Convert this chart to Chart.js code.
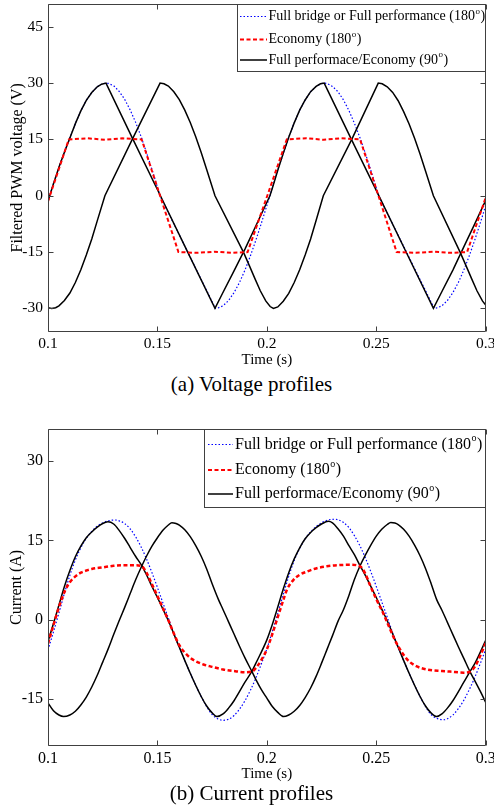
<!DOCTYPE html>
<html>
<head>
<meta charset="utf-8">
<script src="https://cdn.jsdelivr.net/npm/chart.js@4.4.1/dist/chart.umd.min.js"></script>
<style>
  html, body { margin: 0; padding: 0; background: #fff; }
  body { width: 494px; height: 812px; position: relative; overflow: hidden;
         font-family: "Liberation Serif", "Times New Roman", serif; }
  .box { position: absolute; left: 0; width: 494px; }
  .caption { position: absolute; left: 4.5px; width: 494px; text-align: center;
             font-size: 21px; line-height: 24px; color: #000; }
</style>
</head>
<body>
<div class="box" style="top:0;height:372px"><canvas id="voltChart"></canvas></div>
<div class="caption" style="top:372px">(a) Voltage profiles</div>
<div class="box" style="top:400px;height:385px"><canvas id="currChart"></canvas></div>
<div class="caption" style="top:781px">(b) Current profiles</div>

<script>
// axis ticks
const timeTicks = [0.1, 0.15, 0.2, 0.25, 0.3];
const voltTicks = [-30, -15, 0, 15, 30, 45];
const currTicks = [-15, 0, 15, 30];

// legend text (superscript "o" drawn smaller)
const legendEntries = [
  { key: 'blue', text: 'Full bridge or Full performance (180', sup: 'o', end: ')' },
  { key: 'red', text: 'Economy (180', sup: 'o', end: ')' },
  { key: 'black', text: 'Full performace/Economy (90', sup: 'o', end: ')' }
];

// ---- (a) voltage, [time s, volts] ----
const voltBlue = [
  [0.100, -1.5], [0.1025, 3.2], [0.105, 7.6], [0.1075, 11.6], [0.110, 15.4], [0.1125, 19.2], [0.115, 22.6],
  [0.1175, 25.4], [0.120, 27.5], [0.1225, 29.0], [0.1245, 29.7], [0.1265, 30],
  [0.1275, 29.9], [0.130, 29.3], [0.1325, 27.8], [0.135, 25.7], [0.1375, 22.9], [0.140, 19.6], [0.1425, 15.8],
  [0.145, 11.5], [0.1475, 7.0], [0.1512, 0], [0.1765, -30], [0.178, -29.8], [0.180, -29.3], [0.1825, -27.9],
  [0.185, -25.8], [0.1875, -23.1], [0.190, -19.8], [0.1925, -16.0], [0.195, -11.8], [0.1975, -7.3], [0.2014, 0],
  [0.2025, 2.0], [0.205, 6.8], [0.2075, 11.3], [0.210, 15.6], [0.2125, 19.4], [0.215, 22.8], [0.2175, 25.5],
  [0.220, 27.7], [0.2225, 29.1], [0.2245, 29.8], [0.2262, 30], [0.2275, 29.9],
  [0.230, 29.1], [0.2325, 27.7], [0.235, 25.5], [0.2375, 22.7], [0.240, 19.3], [0.2425, 15.5], [0.245, 11.3],
  [0.2475, 6.8], [0.2511, 0], [0.2765, -30], [0.278, -29.8], [0.280, -29.3], [0.2825, -27.9], [0.285, -25.8],
  [0.2875, -23.1], [0.290, -19.8], [0.2925, -16.0], [0.295, -11.8], [0.2975, -7.3], [0.300, -2.6]
];
const voltRed = [
  [0.100, -1.5], [0.1095, 15], [0.118, 15.3], [0.126, 14.9], [0.134, 15.3], [0.1428, 15], [0.1512, 0],
  [0.1596, -15], [0.168, -15.2], [0.176, -14.9], [0.184, -15.2], [0.1912, -15], [0.2005, 0.5], [0.2091, 15],
  [0.218, 15.3], [0.226, 14.9], [0.234, 15.3], [0.2426, 15], [0.2510, 0], [0.2593, -15], [0.268, -15.2],
  [0.276, -14.9], [0.284, -15.2], [0.2915, -15], [0.300, -0.5]
];
const voltBlackA = [
  [0.100, -1.5], [0.1025, 3.2], [0.105, 7.6], [0.1075, 11.6], [0.110, 15.4], [0.1125, 19.2], [0.115, 22.6],
  [0.1175, 25.4], [0.120, 27.5], [0.1225, 29.0], [0.1245, 29.7], [0.1265, 30],
  [0.1385, 15.4], [0.1512, 0.2], [0.164, -15.2], [0.1763, -30], [0.180, -25.7], [0.185, -20.0], [0.190, -14.2],
  [0.195, -8.0], [0.2014, 0], [0.2025, 2.0], [0.205, 6.8], [0.2075, 11.3], [0.210, 15.6], [0.2125, 19.4],
  [0.215, 22.8], [0.2175, 25.5], [0.220, 27.7], [0.2225, 29.1], [0.2245, 29.8], [0.2262, 30],
  [0.2388, 14.8], [0.2511, 0.1], [0.2639, -15.3], [0.2761, -30], [0.280, -25.5], [0.285, -19.8],
  [0.290, -13.6], [0.295, -7.5], [0.300, -1.2]
];
const voltBlackB = [
  [0.100, -29.8], [0.1017, -30], [0.1035, -29.8], [0.105, -29.3], [0.1075, -27.9], [0.110, -25.9],
  [0.1125, -23.1], [0.115, -19.7], [0.1175, -15.8], [0.120, -11.5], [0.1225, -6.7], [0.126, 0],
  [0.1385, 15], [0.1512, 30], [0.153, 29.8], [0.155, 29.2], [0.1575, 27.7], [0.160, 25.6], [0.1625, 22.8],
  [0.165, 19.5], [0.1675, 15.7], [0.170, 11.5], [0.1725, 7.0], [0.1763, 0],
  [0.1893, -15], [0.192, -18.6], [0.1945, -22.0], [0.197, -25.3], [0.1995, -28.0], [0.2015, -29.5],
  [0.203, -30], [0.205, -29.6], [0.2075, -28.1], [0.210, -26.0], [0.2125, -23.1], [0.215, -19.7],
  [0.2175, -15.8], [0.220, -11.5], [0.2225, -6.6], [0.2258, 0], [0.2388, 15], [0.2509, 30],
  [0.2527, 29.8], [0.255, 29.0], [0.2575, 27.5], [0.260, 25.3], [0.2625, 22.4], [0.265, 19.1],
  [0.2675, 15.3], [0.270, 11.1], [0.2725, 6.6], [0.2761, 0], [0.2883, -15], [0.291, -18.6],
  [0.2935, -22.0], [0.296, -25.3], [0.2985, -28.0], [0.300, -29.1]
];

// ---- (b) current, [time s, amps] ----
const currBlue = [
  [0.100, -5.7], [0.1025, -2.3], [0.105, 1.3], [0.1075, 5.0], [0.110, 8.4], [0.1125, 11.3], [0.115, 13.6],
  [0.1175, 15.4], [0.120, 16.7], [0.1225, 17.7], [0.125, 18.3], [0.1275, 18.7], [0.1307, 18.85], [0.1325, 18.7],
  [0.135, 18.2], [0.1375, 17.2], [0.140, 15.7], [0.1425, 13.8], [0.145, 11.5], [0.1475, 8.9], [0.150, 6.1],
  [0.1525, 3.2], [0.155, 0.3], [0.1575, -2.6], [0.160, -5.2], [0.165, -10.1], [0.170, -14.5], [0.1725, -16.4],
  [0.175, -17.9], [0.1775, -18.7], [0.1802, -19.0], [0.1825, -18.8], [0.185, -18.1], [0.1875, -16.9],
  [0.190, -15.3], [0.1925, -13.3], [0.195, -11.0], [0.1975, -8.3], [0.200, -5.5], [0.2025, -2.2], [0.205, 1.2],
  [0.2075, 4.8], [0.210, 8.2], [0.2125, 11.2], [0.215, 13.5], [0.2175, 15.3], [0.220, 16.6], [0.2225, 17.6],
  [0.225, 18.3], [0.2275, 18.8], [0.2312, 19.0], [0.2325, 18.9], [0.235, 18.4], [0.2375, 17.4], [0.240, 15.9],
  [0.2425, 14.0], [0.245, 11.7], [0.2475, 9.1], [0.250, 6.3], [0.2525, 3.4], [0.255, 0.5], [0.2575, -2.5],
  [0.260, -5.2], [0.265, -10.1], [0.270, -14.5], [0.2725, -16.4], [0.275, -17.9], [0.2775, -18.6],
  [0.2806, -18.9], [0.2825, -18.7], [0.285, -18.0], [0.2875, -16.8], [0.290, -15.2], [0.2925, -13.2],
  [0.295, -10.9], [0.2975, -8.3], [0.300, -5.6]
];
const currRed = [
  [0.100, -4.5], [0.1025, -1.0], [0.105, 2.4], [0.1079, 5.6], [0.110, 7.1], [0.1125, 8.2], [0.115, 8.9],
  [0.1175, 9.3], [0.120, 9.6], [0.125, 9.9], [0.130, 10.2], [0.135, 10.3], [0.140, 10.3], [0.1429, 10.1],
  [0.145, 8.9], [0.1475, 6.7], [0.150, 4.5], [0.1525, 2.2], [0.155, -0.1], [0.1575, -2.6], [0.160, -4.8],
  [0.1625, -6.2], [0.165, -7.2], [0.170, -8.3], [0.175, -8.9], [0.180, -9.4], [0.185, -9.7], [0.190, -9.9],
  [0.1932, -9.8], [0.195, -9.1], [0.1975, -7.6], [0.200, -5.6], [0.2025, -2.7], [0.2046, 0], [0.2076, 3.8],
  [0.2091, 5.6], [0.2121, 7.5], [0.215, 8.5], [0.2183, 9.1], [0.2225, 9.7], [0.2274, 10.1], [0.232, 10.3],
  [0.238, 10.4], [0.2426, 10.1], [0.245, 8.7], [0.2472, 6.5], [0.250, 3.9], [0.2532, 1.2], [0.2555, -1.0],
  [0.2578, -3.2], [0.260, -5.0], [0.2639, -7.4], [0.2675, -8.6], [0.2731, -9.4], [0.280, -9.7], [0.2837, -9.8],
  [0.290, -10.0], [0.2928, -9.8], [0.295, -8.9], [0.2974, -6.9], [0.300, -4.4]
];
const currBlackA = [
  [0.100, -4.1], [0.1025, -0.7], [0.105, 2.8], [0.1075, 6.3], [0.110, 9.3], [0.1125, 11.9], [0.115, 13.9],
  [0.1175, 15.5], [0.120, 16.6], [0.1225, 17.5], [0.125, 18.2], [0.1274, 18.5], [0.130, 18.1], [0.1325, 16.9],
  [0.135, 15.4], [0.1375, 13.7], [0.140, 12.0], [0.1429, 10.2], [0.145, 8.5], [0.1475, 6.3], [0.150, 4.2],
  [0.1525, 2.0], [0.155, -0.2], [0.160, -5.2], [0.165, -10.1], [0.170, -14.5], [0.1725, -16.3], [0.175, -17.6],
  [0.1772, -18.3], [0.180, -17.8], [0.1825, -16.7], [0.185, -15.3], [0.190, -11.8], [0.1932, -9.7],
  [0.195, -8.2], [0.200, -3.8], [0.2025, -0.9], [0.205, 2.4], [0.2075, 5.8], [0.210, 8.9], [0.2125, 11.5],
  [0.215, 13.6], [0.2175, 15.3], [0.220, 16.5], [0.2225, 17.4], [0.225, 18.1], [0.2281, 18.6], [0.230, 18.3],
  [0.2325, 17.2], [0.235, 15.8], [0.2375, 14.0], [0.240, 12.3], [0.2426, 10.2], [0.245, 8.4], [0.2475, 6.3],
  [0.250, 4.2], [0.2525, 2.0], [0.255, -0.2], [0.260, -5.2], [0.265, -10.1], [0.270, -14.5], [0.2725, -16.3],
  [0.275, -17.6], [0.2776, -18.3], [0.280, -17.8], [0.2825, -16.7], [0.285, -15.3], [0.290, -11.8],
  [0.2928, -9.8], [0.295, -8.3], [0.300, -3.9]
];
const currBlackB = [
  [0.100, -15.7], [0.1025, -17.2], [0.105, -18.0], [0.1071, -18.3], [0.110, -18.0], [0.1125, -17.3],
  [0.115, -16.1], [0.1175, -14.6], [0.120, -12.7], [0.1225, -10.5], [0.125, -8.0], [0.1275, -5.5],
  [0.130, -2.8], [0.1325, -0.2], [0.135, 2.3], [0.1375, 4.9], [0.140, 7.5], [0.1429, 10.2], [0.145, 12.0],
  [0.1475, 13.9], [0.150, 15.5], [0.1525, 16.9], [0.155, 17.9], [0.1566, 18.35], [0.1585, 18.2], [0.160, 17.9],
  [0.1625, 17.0], [0.165, 15.7], [0.1675, 14.0], [0.170, 12.0], [0.1725, 9.6], [0.175, 6.8], [0.1779, 3.8],
  [0.180, 1.9], [0.1825, -0.4], [0.185, -2.7], [0.1875, -5.0], [0.190, -7.2], [0.1932, -9.8], [0.195, -11.3],
  [0.1975, -13.2], [0.200, -14.8], [0.2025, -16.4], [0.205, -17.5], [0.2076, -18.3], [0.210, -18.0],
  [0.2125, -17.3], [0.215, -16.2], [0.2175, -14.7], [0.220, -12.9], [0.2225, -10.7], [0.225, -8.2],
  [0.2275, -5.6], [0.230, -3.0], [0.2325, -0.3], [0.235, 1.9], [0.2375, 4.6], [0.240, 7.6], [0.2426, 10.2],
  [0.245, 12.2], [0.2475, 14.1], [0.250, 15.8], [0.2525, 17.1], [0.255, 18.0], [0.2566, 18.4], [0.2585, 18.3],
  [0.260, 18.0], [0.2625, 17.1], [0.265, 15.8], [0.2675, 14.1], [0.270, 12.1], [0.2725, 9.7], [0.275, 6.9],
  [0.2776, 3.8], [0.280, 1.8], [0.2825, -0.5], [0.285, -2.8], [0.2875, -5.1], [0.290, -7.3], [0.2928, -9.8],
  [0.295, -11.5], [0.2975, -13.5], [0.300, -15.6]
];

const looks = {
  blue: { color: '#0000ff', width: 1.2, dash: [1.5, 2] },
  red: { color: '#ff0000', width: 2, dash: [4, 2.5] },
  black: { color: '#000000', width: 1.5, dash: [] }
};

const serif = '"Liberation Serif", "Times New Roman", serif';
Chart.defaults.font.family = serif;
Chart.defaults.color = '#000';

const toXY = arr => arr.map(([x, y]) => ({ x, y }));

// smooth = true for the filtered current curves (no sharp corners there)
function lineSet(pairs, key, order, smooth, width) {
  const s = looks[key];
  const set = {
    data: toXY(pairs), borderColor: s.color, borderWidth: width || s.width, borderDash: s.dash,
    pointRadius: 0, fill: false, tension: 0, order
  };
  if (smooth) set.cubicInterpolationMode = 'monotone';
  return set;
}

// MATLAB style box, inward ticks and the legend
const boxPlugin = {
  id: 'boxPlugin',
  afterDatasetsDraw(chart, args, opts) {
    const { ctx, chartArea: a, scales } = chart;
    const L = Math.round(a.left) + 0.5, R = Math.round(a.right) - 0.5;
    const T = Math.round(a.top) + 0.5, B = Math.round(a.bottom) - 0.5;
    ctx.save();
    ctx.strokeStyle = '#404040';
    ctx.lineWidth = 1;
    ctx.setLineDash([]);
    ctx.beginPath();
    ctx.rect(L, T, R - L, B - T);
    scales.x.ticks.forEach(t => {
      const px = Math.round(scales.x.getPixelForValue(t.value)) + 0.5;
      ctx.moveTo(px, B); ctx.lineTo(px, B - 5);
      ctx.moveTo(px, T); ctx.lineTo(px, T + 5);
    });
    scales.y.ticks.forEach(t => {
      const py = Math.round(scales.y.getPixelForValue(t.value)) + 0.5;
      ctx.moveTo(L, py); ctx.lineTo(L + 5, py);
      ctx.moveTo(R, py); ctx.lineTo(R - 5, py);
    });
    ctx.stroke();

    const lg = opts.legend;
    if (lg) {
      const lx = Math.round(lg.left) + 0.5, lb = Math.round(lg.bottom) + 0.5;
      ctx.fillStyle = '#fff';
      ctx.fillRect(lx, T, R - lx, lb - T);
      ctx.strokeStyle = '#404040';
      ctx.strokeRect(lx, T, R - lx, lb - T);
      legendEntries.forEach((e, i) => {
        const s = looks[e.key];
        const y = lg.rows[i];
        ctx.beginPath();
        ctx.strokeStyle = s.color;
        ctx.lineWidth = s.width;
        ctx.setLineDash(s.dash);
        ctx.moveTo(lg.x0, y); ctx.lineTo(lg.x1, y);
        ctx.stroke();
        ctx.setLineDash([]);
        ctx.fillStyle = '#000';
        ctx.textBaseline = 'middle';
        ctx.textAlign = 'left';
        ctx.font = lg.size + 'px ' + serif;
        ctx.fillText(e.text, lg.tx, y);
        let w = ctx.measureText(e.text).width;
        ctx.font = Math.round(lg.size * 0.62) + 'px ' + serif;
        ctx.fillText(e.sup, lg.tx + w + 0.5, y - lg.size * 0.36);
        w += ctx.measureText(e.sup).width + 1;
        ctx.font = lg.size + 'px ' + serif;
        ctx.fillText(e.end, lg.tx + w, y);
      });
    }
    ctx.restore();
  }
};

function makeChart(id, sets, cfg) {
  new Chart(document.getElementById(id), {
    type: 'line',
    data: { datasets: sets },
    plugins: [boxPlugin],
    options: {
      responsive: true,
      maintainAspectRatio: false,
      animation: false,
      layout: { padding: { left: 0, top: cfg.top, right: 8.3, bottom: 0 } },
      plugins: {
        legend: { display: false },
        tooltip: { enabled: false },
        boxPlugin: { legend: cfg.legend }
      },
      scales: {
        x: {
          type: 'linear', min: 0.1, max: 0.3,
          afterBuildTicks: s => { s.ticks = timeTicks.map(v => ({ value: v })); },
          afterFit: s => { s.height = cfg.xH; s.paddingLeft = 0; s.paddingRight = 0; },
          grid: { display: false, drawTicks: false },
          border: { display: false },
          ticks: { padding: 3, autoSkip: false, maxRotation: 0, font: { size: cfg.tick },
                   callback: v => String(v) },
          title: { display: true, text: 'Time (s)', font: { size: 15 }, padding: { top: 0, bottom: cfg.xTitlePad } }
        },
        y: {
          type: 'linear', min: cfg.yMin, max: cfg.yMax,
          afterBuildTicks: s => { s.ticks = cfg.yTicks.map(v => ({ value: v })); },
          afterFit: s => { s.width = 48; s.paddingTop = 0; s.paddingBottom = 0; },
          grid: { display: false, drawTicks: false },
          border: { display: false },
          ticks: { padding: 5, font: { size: cfg.tick }, callback: v => String(v) },
          title: { display: true, text: cfg.yTitle, font: { size: 16 }, padding: { top: cfg.yTitlePad, bottom: 0 } }
        }
      }
    }
  });
}

makeChart('voltChart', [
  lineSet(voltRed, 'red', 0, false),
  lineSet(voltBlackA, 'black', 1, false),
  lineSet(voltBlackB, 'black', 1, false),
  lineSet(voltBlue, 'blue', 2, false)
], {
  top: 4, xH: 40.3, xTitlePad: 3, yMin: -36.2, yMax: 51.05, yTicks: voltTicks,
  yTitle: 'Filtered PWM voltage (V)', yTitlePad: 8, tick: 15.5,
  legend: { left: 237, bottom: 71, rows: [16.5, 39.5, 60], x0: 240, x1: 267, tx: 268.5, size: 14 }
});

makeChart('currChart', [
  lineSet(currRed, 'red', 0, true, 2.5),
  lineSet(currBlackA, 'black', 1, true),
  lineSet(currBlackB, 'black', 1, true),
  lineSet(currBlue, 'blue', 2, true)
], {
  top: 29, xH: 39.3, xTitlePad: 2, yMin: -23.8, yMax: 36.05, yTicks: currTicks,
  yTitle: 'Current (A)', yTitlePad: 7, tick: 16,
  legend: { left: 204, bottom: 106.7, rows: [44.5, 70, 94], x0: 208, x1: 233, tx: 235, size: 16 }
});
</script>
</body>
</html>
